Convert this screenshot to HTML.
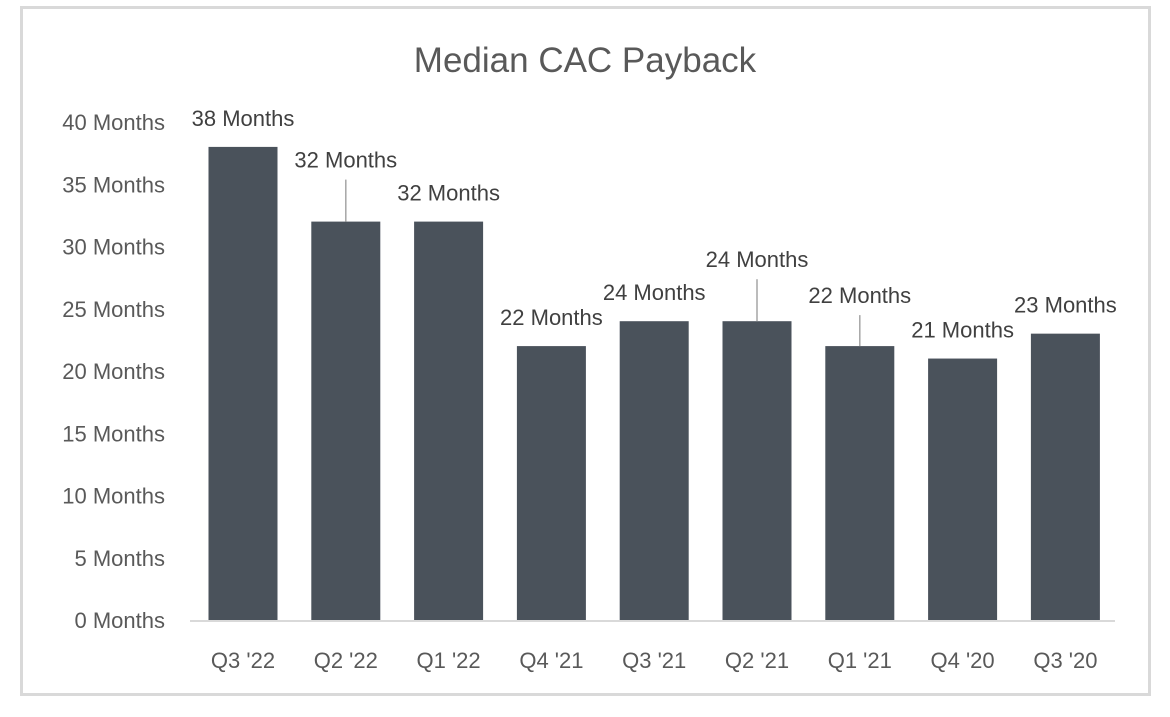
<!DOCTYPE html>
<html><head><meta charset="utf-8"><style>
body{margin:0;background:#fff;}
svg{display:block;font-family:"Liberation Sans",sans-serif;}
</style></head><body>
<svg id="chart" width="1170" height="717">
<rect x="21.5" y="7.5" width="1128" height="687" fill="#fff" stroke="#d9d9d9" stroke-width="3"/>
<text x="585" y="72" text-anchor="middle" font-size="35" fill="#595959">Median CAC Payback</text>
<g id="yaxis"></g>
<g id="bars"></g>
<line x1="190" y1="621" x2="1115" y2="621" stroke="#d9d9d9" stroke-width="2"/>
<g id="xaxis"></g>
<g id="labels"></g>
</svg>
<script>
const categories=["Q3 '22","Q2 '22","Q1 '22","Q4 '21","Q3 '21","Q2 '21","Q1 '21","Q4 '20","Q3 '20"];
const values=[38,32,32,22,24,24,22,21,23];
const yTicks=[0,5,10,15,20,25,30,35,40];
const labelOffsets=[0,33,0,0,0,33,22,0,0];
const NS="http://www.w3.org/2000/svg";
const y0=620,y40=122;
function y(v){return y0-(v/40)*(y0-y40);}
const step=102.8,x0=243;
function xc(i){return x0+i*step;}
function mk(tag,attrs,parent){const e=document.createElementNS(NS,tag);for(const k in attrs)e.setAttribute(k,attrs[k]);parent.appendChild(e);return e;}
const ya=document.getElementById('yaxis'),ba=document.getElementById('bars'),xa=document.getElementById('xaxis'),la=document.getElementById('labels');
yTicks.forEach(t=>{const e=mk('text',{x:165,y:y(t)+8,'text-anchor':'end','font-size':22,fill:'#595959'},ya);e.textContent=t+' Months';

});
categories.forEach((c,i)=>{
const r=mk('rect',{x:xc(i)-34.5,y:y(values[i]),width:69,height:y0-y(values[i]),fill:'#4a525b'},ba);


const t=mk('text',{x:xc(i),y:668,'text-anchor':'middle','font-size':22,fill:'#595959'},xa);t.textContent=c;


const off=labelOffsets[i];
const ly=y(values[i])-21-off;
const l=mk('text',{x:xc(i),y:ly,'text-anchor':'middle','font-size':22,fill:'#404040'},la);l.textContent=values[i]+' Months';


if(off>0){const ln=mk('line',{x1:xc(i),y1:ly+12,x2:xc(i),y2:y(values[i]),stroke:'#a6a6a6','stroke-width':1.5},la);

}
});
</script>
</body></html>
